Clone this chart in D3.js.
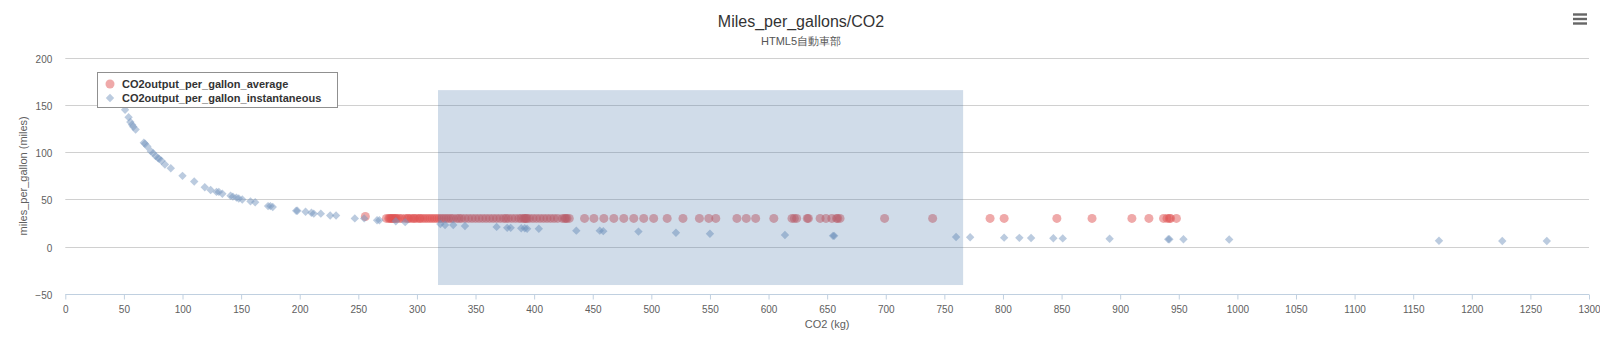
<!DOCTYPE html>
<html>
<head>
<meta charset="utf-8">
<script src="https://cdn.jsdelivr.net/npm/d3@7/dist/d3.min.js"></script>
<style>
  html, body { margin: 0; padding: 0; background: #fff; }
  svg { display: block; font-family: "Liberation Sans", Arial, sans-serif; }
</style>
</head>
<body>
<svg id="chart" width="1600" height="338"></svg>
<script>
// ---------- data ----------
const titleText = "Miles_per_gallons/CO2";
const subtitleText = "HTML5自動車部";
const xAxisTitle = "CO2 (kg)";
const yAxisTitle = "miles_per_gallon (miles)";
const seriesNames = ["CO2output_per_gallon_average", "CO2output_per_gallon_instantaneous"];
const xTicks = [0,50,100,150,200,250,300,350,400,450,500,550,600,650,700,750,800,850,900,950,1000,1050,1100,1150,1200,1250,1300];
const yTicks = [-50,0,50,100,150,200];

const avgX = [256,
  274,276,277,278,279,280,281,282,283,285,287,
  290,292,293,295,297,298,300,302,303,305,307,309,311,313,315,317,319,321,323,325,327,329,331,334,336,
  338,341,344,347,350,353,356,359,362,365,368,371,374,376,378,381,384,387,389,391,392,393,394,396,399,402,405,408,411,414,417,420,424,426,427,428,430,
  443,451,459.5,468,476.5,485,493.5,502,513.5,527,541,549,555,573,581,589,604.5,620,622,624,633,634,644,649,654,658,659,661,699,740,789,801,846,876,910,924.5,937,940,942,943,948];
const avgY = [32,
  30,30,30,30,30,30,30,30,30,30,30,
  30,30,30,30,30,30,30,30,30,30,30,30,30,30,30,30,30,30,30,30,30,30,30,30,30,
  30,30,30,30,30,30,30,30,30,30,30,30,30,30,30,30,30,30,30,30,30,30,30,30,30,30,30,30,30,30,30,30,30,30,30,30,30,
  30,30,30,30,30,30,30,30,30,30,30,30,30,30,30,30,30,30,30,30,30,30,30,30,30,30,30,30,30,30,30,30,30,30,30,30,30,30,30,30,30];

const instX = [51,54,55.5,57,58,60,67,68,70,73,75,77,79,80,82,85,90,100,110,119,124,129,131,134,141,143,146,148,151,158,162,173,175,177,197,198,205,210,212,218,226,231,247,255,266,268,282,290,320,324,331,341,368,377,380,389,392,394,404,436,456,459,489,521,550,614,655,656,760,772,801,814,824,843,851,891,941,942,954,993,1172,1226,1264];
const instY = [145,137,132,129,127,124,110,109,106,101,99,96,94,93,91,87,83,75,69,63,60,58,58,56,54,53,52,51,50,48,47,43,43,42,38,38,37,36,35,35,33,33,30,30,28,28,27,26,24,23,23,22,21,20,20,19.5,19.5,19,19,17,17,16.5,16,14.8,13.7,12.5,11.5,11.5,10.3,10,9.6,9.4,9.2,9,8.8,8.4,8,8,7.9,7.6,6.4,6.1,6];

const bandX = [318, 766];
const bandY = [-40.5, 165.7];

// ---------- layout ----------
const svg = d3.select("#chart");
const W = 1600, H = 338;
const plotLeft = 65.3, plotRight = 1589, plotTop = 57.7, plotBottom = 294;

const x = d3.scaleLinear().domain([0, 1300]).range([plotLeft, plotRight]);
const y = d3.scaleLinear().domain([-50, 200]).range([plotBottom, plotTop]);

svg.append("rect").attr("width", W).attr("height", H).attr("fill", "#fff");

// title & subtitle
svg.append("text").attr("x", 801).attr("y", 26.7).attr("text-anchor", "middle")
  .attr("font-size", 16).attr("fill", "#333").text(titleText);
svg.append("text").attr("x", 801).attr("y", 45).attr("text-anchor", "middle")
  .attr("font-size", 11).attr("fill", "#555").text(subtitleText);

// hamburger menu
const ham = svg.append("g").attr("fill", "#666");
[14.5, 19, 23.5].forEach(v => ham.append("rect").attr("x", 1573).attr("y", v - 1.2).attr("width", 14).attr("height", 2.4));

// grid lines
svg.append("g")
  .selectAll("line").data(yTicks.filter(d => d > -50)).join("line")
  .attr("x1", plotLeft).attr("x2", plotRight)
  .attr("y1", d => Math.round(y(d)) + 0.5).attr("y2", d => Math.round(y(d)) + 0.5)
  .attr("stroke", "#d0d0d0").attr("stroke-width", 1);

// y axis labels
const yAxis = d3.axisLeft(y).tickValues(yTicks).tickFormat(d3.format("d")).tickSize(0).tickPadding(13);
const gy = svg.append("g").attr("transform", `translate(${plotLeft},0)`).call(yAxis);
gy.select(".domain").remove();
gy.selectAll("text").attr("font-size", 10).attr("fill", "#606060")
  .attr("font-family", "Liberation Sans, Arial, sans-serif").attr("dy", "0.45em");

// x axis
const xAxis = d3.axisBottom(x).tickValues(xTicks).tickFormat(d3.format("d")).tickSize(5).tickPadding(6);
const gx = svg.append("g").attr("transform", `translate(0,${Math.round(plotBottom) + 0.5})`).call(xAxis);
gx.select(".domain").attr("stroke", "#C0D0E0").attr("d", `M${plotLeft},0H${plotRight}`);
gx.selectAll(".tick line").attr("stroke", "#C0D0E0");
gx.selectAll("text").attr("font-size", 10).attr("fill", "#606060")
  .attr("font-family", "Liberation Sans, Arial, sans-serif");

// axis titles
svg.append("text").attr("x", (plotLeft + plotRight) / 2).attr("y", 327.5).attr("text-anchor", "middle")
  .attr("font-size", 11).attr("fill", "#606060").text(xAxisTitle);
svg.append("text").attr("transform", `translate(26.5,${(plotTop + plotBottom) / 2}) rotate(-90)`)
  .attr("text-anchor", "middle").attr("font-size", 11).attr("fill", "#606060").text(yAxisTitle);

// series
const avgData = avgX.map((v, i) => ({x: v, y: avgY[i]}));
const instData = instX.map((v, i) => ({x: v, y: instY[i]}));
const diamond = r => `M0,${-r}L${r},0L0,${r}L${-r},0Z`;

svg.append("g").selectAll("circle").data(avgData).join("circle")
  .attr("cx", d => x(d.x)).attr("cy", d => y(d.y)).attr("r", 4.5)
  .attr("fill", "rgba(223,83,83,0.5)");

svg.append("g").selectAll("path").data(instData).join("path")
  .attr("transform", d => `translate(${x(d.x)},${y(d.y)})`)
  .attr("d", diamond(4.2))
  .attr("fill", "rgba(119,152,191,0.5)");

// selection band
svg.append("rect")
  .attr("x", x(bandX[0])).attr("width", x(bandX[1]) - x(bandX[0]))
  .attr("y", y(bandY[1])).attr("height", y(bandY[0]) - y(bandY[1]))
  .attr("fill", "rgba(69,114,167,0.25)");

// legend
const lg = svg.append("g");
lg.append("rect").attr("x", 97.5).attr("y", 72.5).attr("width", 240).attr("height", 35)
  .attr("fill", "#fff").attr("stroke", "#909090").attr("stroke-width", 1);
lg.append("circle").attr("cx", 110).attr("cy", 84).attr("r", 4.5).attr("fill", "rgba(223,83,83,0.5)");
lg.append("path").attr("transform", "translate(110,98)").attr("d", diamond(4.2)).attr("fill", "rgba(119,152,191,0.5)");
lg.selectAll("text.lt").data(seriesNames).join("text").attr("class", "lt")
  .attr("x", 122).attr("y", (d, i) => 88 + i * 14)
  .attr("font-size", 11).attr("font-weight", "bold").attr("fill", "#333").text(d => d);
</script>
</body>
</html>
